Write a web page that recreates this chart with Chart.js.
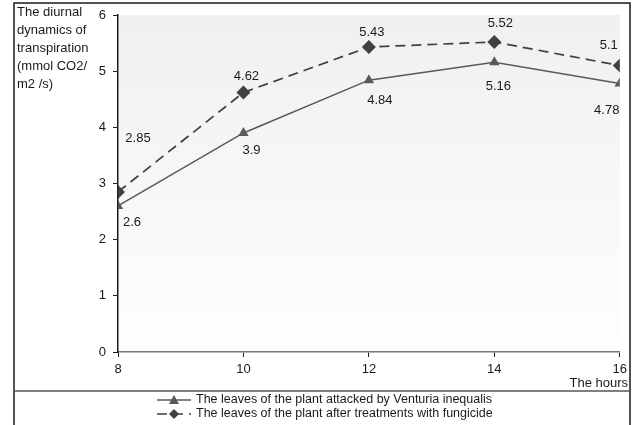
<!DOCTYPE html>
<html>
<head>
<meta charset="utf-8">
<script src="https://cdn.jsdelivr.net/npm/chart.js@4.4.1/dist/chart.umd.min.js"></script>
<style>
html,body{margin:0;padding:0;background:#fff;}
#wrap{width:632px;height:425px;position:relative;}
</style>
</head>
<body>
<div id="wrap"><canvas id="c" width="632" height="425"></canvas></div>
<script>
// ---- data ----
const hours = [8, 10, 12, 14, 16];
const attacked = [2.6, 3.9, 4.84, 5.16, 4.78];
const fungicide = [2.85, 4.62, 5.43, 5.52, 5.1];
const seriesNames = [
  'The leaves of the plant attacked by Venturia inequalis',
  'The leaves of the plant after treatments with fungicide'
];
const yTitleLines = ['The diurnal', 'dynamics of', 'transpiration', '(mmol CO2/', 'm2 /s)'];
const xTitle = 'The hours';

// ---- styling ----
const FONT = '"Liberation Sans", Arial, sans-serif';
const labelOffsets = [
  [[14, 16], [8, 17], [11, 20], [4, 24], [-13, 27]],
  [[20, -54], [3, -16], [3, -15], [6, -19], [-11, -20]]
];

const bgPlugin = {
  id: 'bg',
  beforeDraw(chart) {
    const {ctx, chartArea: a} = chart;
    const g = ctx.createLinearGradient(0, a.top, 0, a.bottom);
    g.addColorStop(0, '#f0f0f0');
    g.addColorStop(1, '#fefefe');
    ctx.save();
    ctx.fillStyle = g;
    ctx.fillRect(a.left + 1, a.top, a.right - a.left - 1, a.bottom - a.top);
    ctx.restore();
  }
};

const decoPlugin = {
  id: 'deco',
  afterDatasetsDraw(chart) {
    const ctx = chart.ctx;
    ctx.save();
    ctx.font = '13px ' + FONT;
    ctx.fillStyle = '#1a1a1a';
    ctx.textAlign = 'center';
    ctx.textBaseline = 'middle';
    chart.data.datasets.forEach((ds, di) => {
      const meta = chart.getDatasetMeta(di);
      meta.data.forEach((pt, i) => {
        const off = labelOffsets[di][i];
        ctx.fillText(String(ds.data[i].y), pt.x + off[0], pt.y + off[1]);
      });
    });
    ctx.restore();
  },
  afterDraw(chart) {
    const ctx = chart.ctx;
    ctx.save();
    // frame
    ctx.strokeStyle = '#1a1a1a';
    ctx.lineWidth = 1.5;
    ctx.beginPath();
    ctx.moveTo(14, 425); ctx.lineTo(14, 3); ctx.lineTo(630, 3); ctx.lineTo(630, 425);
    ctx.stroke();
    ctx.strokeStyle = '#555';
    ctx.beginPath();
    ctx.moveTo(14, 391); ctx.lineTo(630, 391);
    ctx.stroke();
    // y title
    ctx.font = '13px ' + FONT;
    ctx.fillStyle = '#1a1a1a';
    ctx.textAlign = 'left';
    ctx.textBaseline = 'middle';
    yTitleLines.forEach((t, i) => ctx.fillText(t, 17, 12 + i * 18));
    // x title
    ctx.textAlign = 'right';
    ctx.fillText(xTitle, 628, 383);
    // legend
    ctx.font = '12.5px ' + FONT;
    const ys = [400, 414];
    chart.data.datasets.forEach((ds, di) => {
      const y = ys[di];
      ctx.strokeStyle = ds.borderColor;
      ctx.lineWidth = ds.borderWidth;
      ctx.setLineDash(ds.borderDash || []);
      ctx.beginPath();
      ctx.moveTo(157, y); ctx.lineTo(191, y);
      ctx.stroke();
      ctx.setLineDash([]);
      ctx.fillStyle = ds.pointBackgroundColor;
      ctx.beginPath();
      if (ds.pointStyle === 'triangle') {
        ctx.moveTo(174, y - 5); ctx.lineTo(179, y + 4); ctx.lineTo(169, y + 4);
      } else {
        ctx.moveTo(174, y - 5); ctx.lineTo(179, y); ctx.lineTo(174, y + 5); ctx.lineTo(169, y);
      }
      ctx.closePath();
      ctx.fill();
      ctx.fillStyle = '#1a1a1a';
      ctx.textAlign = 'left';
      ctx.fillText(seriesNames[di], 196, y);
    });
    ctx.restore();
  }
};

new Chart(document.getElementById('c'), {
  type: 'line',
  data: {
    datasets: [
      {
        label: seriesNames[0],
        data: hours.map((h, i) => ({x: h, y: attacked[i]})),
        borderColor: '#595959',
        borderWidth: 1.5,
        pointStyle: 'triangle',
        pointRadius: 6,
        pointBackgroundColor: '#595959',
        pointBorderColor: '#595959',
        pointBorderWidth: 0,
        tension: 0
      },
      {
        label: seriesNames[1],
        data: hours.map((h, i) => ({x: h, y: fungicide[i]})),
        borderColor: '#404040',
        borderWidth: 1.7,
        borderDash: [10, 6],
        pointStyle: 'rectRot',
        pointRadius: 7,
        pointBackgroundColor: '#404040',
        pointBorderColor: '#404040',
        pointBorderWidth: 0,
        tension: 0
      }
    ]
  },
  options: {
    responsive: false,
    animation: false,
    devicePixelRatio: 1,
    layout: {padding: {left: 14, right: 11, top: 15, bottom: 0}},
    plugins: {legend: {display: false}, tooltip: {enabled: false}},
    scales: {
      x: {
        type: 'linear',
        min: 8, max: 16,
        afterFit(s) { s.height = 73; },
        ticks: {stepSize: 2, color: '#1a1a1a', font: {family: FONT, size: 13}, padding: 5, maxRotation: 0},
        grid: {drawOnChartArea: false, tickLength: 5, color: '#1a1a1a'},
        border: {color: '#777', width: 1.5}
      },
      y: {
        min: 0, max: 6,
        afterFit(s) { s.width = 104; },
        ticks: {stepSize: 1, color: '#1a1a1a', font: {family: FONT, size: 13}, padding: 7},
        grid: {drawOnChartArea: false, tickLength: 5, color: '#1a1a1a'},
        border: {color: '#1a1a1a', width: 1.5}
      }
    }
  },
  plugins: [bgPlugin, decoPlugin]
});
</script>
</body>
</html>
